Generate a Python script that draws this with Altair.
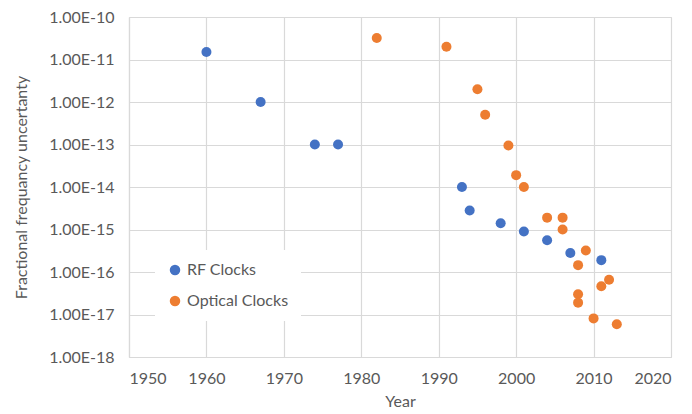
import altair as alt
import pandas as pd

rf_years = [1960, 1967, 1974, 1977, 1993, 1994, 1998, 2001, 2004, 2007, 2011]
rf_vals = [1.5e-11, 1.0e-12, 1.0e-13, 1.0e-13, 1.0e-14, 2.8e-15, 1.4e-15, 9.0e-16, 5.6e-16, 2.8e-16, 1.9e-16]

opt_years = [1982, 1991, 1995, 1996, 1999, 2000, 2001, 2004, 2006, 2006, 2009, 2008, 2012, 2011, 2008, 2008, 2010, 2013]
opt_vals = [3.2e-11, 2.0e-11, 2.0e-12, 5.0e-13, 9.5e-14, 1.9e-14, 1.0e-14, 1.9e-15, 1.9e-15, 1.0e-15,
            3.2e-16, 1.45e-16, 6.6e-17, 4.6e-17, 3.0e-17, 1.9e-17, 8.1e-18, 5.9e-18]

series_names = ["RF Clocks", "Optical Clocks"]
series_colors = ["#4472C4", "#ED7D31"]
y_ticks = [1e-18, 1e-17, 1e-16, 1e-15, 1e-14, 1e-13, 1e-12, 1e-11, 1e-10]
x_ticks = [1950, 1960, 1970, 1980, 1990, 2000, 2010, 2020]

df = pd.concat([
    pd.DataFrame({"Year": rf_years, "Value": rf_vals, "Series": series_names[0]}),
    pd.DataFrame({"Year": opt_years, "Value": opt_vals, "Series": series_names[1]}),
])

grid = "#d9d9d9"
text = "#595959"
font = "Lato"

chart = alt.Chart(df).mark_circle(size=100, opacity=1).encode(
    x=alt.X("Year:Q",
            scale=alt.Scale(domain=[1950, 2020], nice=False, zero=False),
            axis=alt.Axis(values=x_ticks, format="d", title="Year",
                          labelPadding=13, titlePadding=7)),
    y=alt.Y("Value:Q",
            scale=alt.Scale(type="log", domain=[1e-18, 1e-10], nice=False),
            axis=alt.Axis(values=y_ticks,
                          labelExpr="upper(format(datum.value, '.2e'))",
                          title="Fractional frequancy uncertanty",
                          labelPadding=15, titlePadding=19)),
    color=alt.Color("Series:N",
                    scale=alt.Scale(domain=series_names, range=series_colors),
                    sort=series_names,
                    legend=alt.Legend(title=None, orient="none", legendX=26, legendY=233,
                                      fillColor="white", padding=12, rowPadding=15,
                                      symbolSize=110, symbolType="circle",
                                      labelFontSize=16, labelColor=text, labelFont=font,
                                      labelOffset=4)),
).properties(
    width=542, height=340,
    autosize=alt.AutoSizeParams(type="none"),
    padding={"left": 121, "top": 9, "right": 12, "bottom": 53},
).configure_view(
    stroke=grid, strokeWidth=1
).configure_axis(
    grid=True, gridColor=grid, gridWidth=1.2,
    domainColor=grid, domainWidth=1.2,
    ticks=False,
    labelFont=font, labelFontSize=16, labelColor=text,
    titleFont=font, titleFontSize=16, titleColor=text, titleFontWeight="normal",
)

chart.save("out.html", embed_options={"renderer": "svg", "actions": False})
